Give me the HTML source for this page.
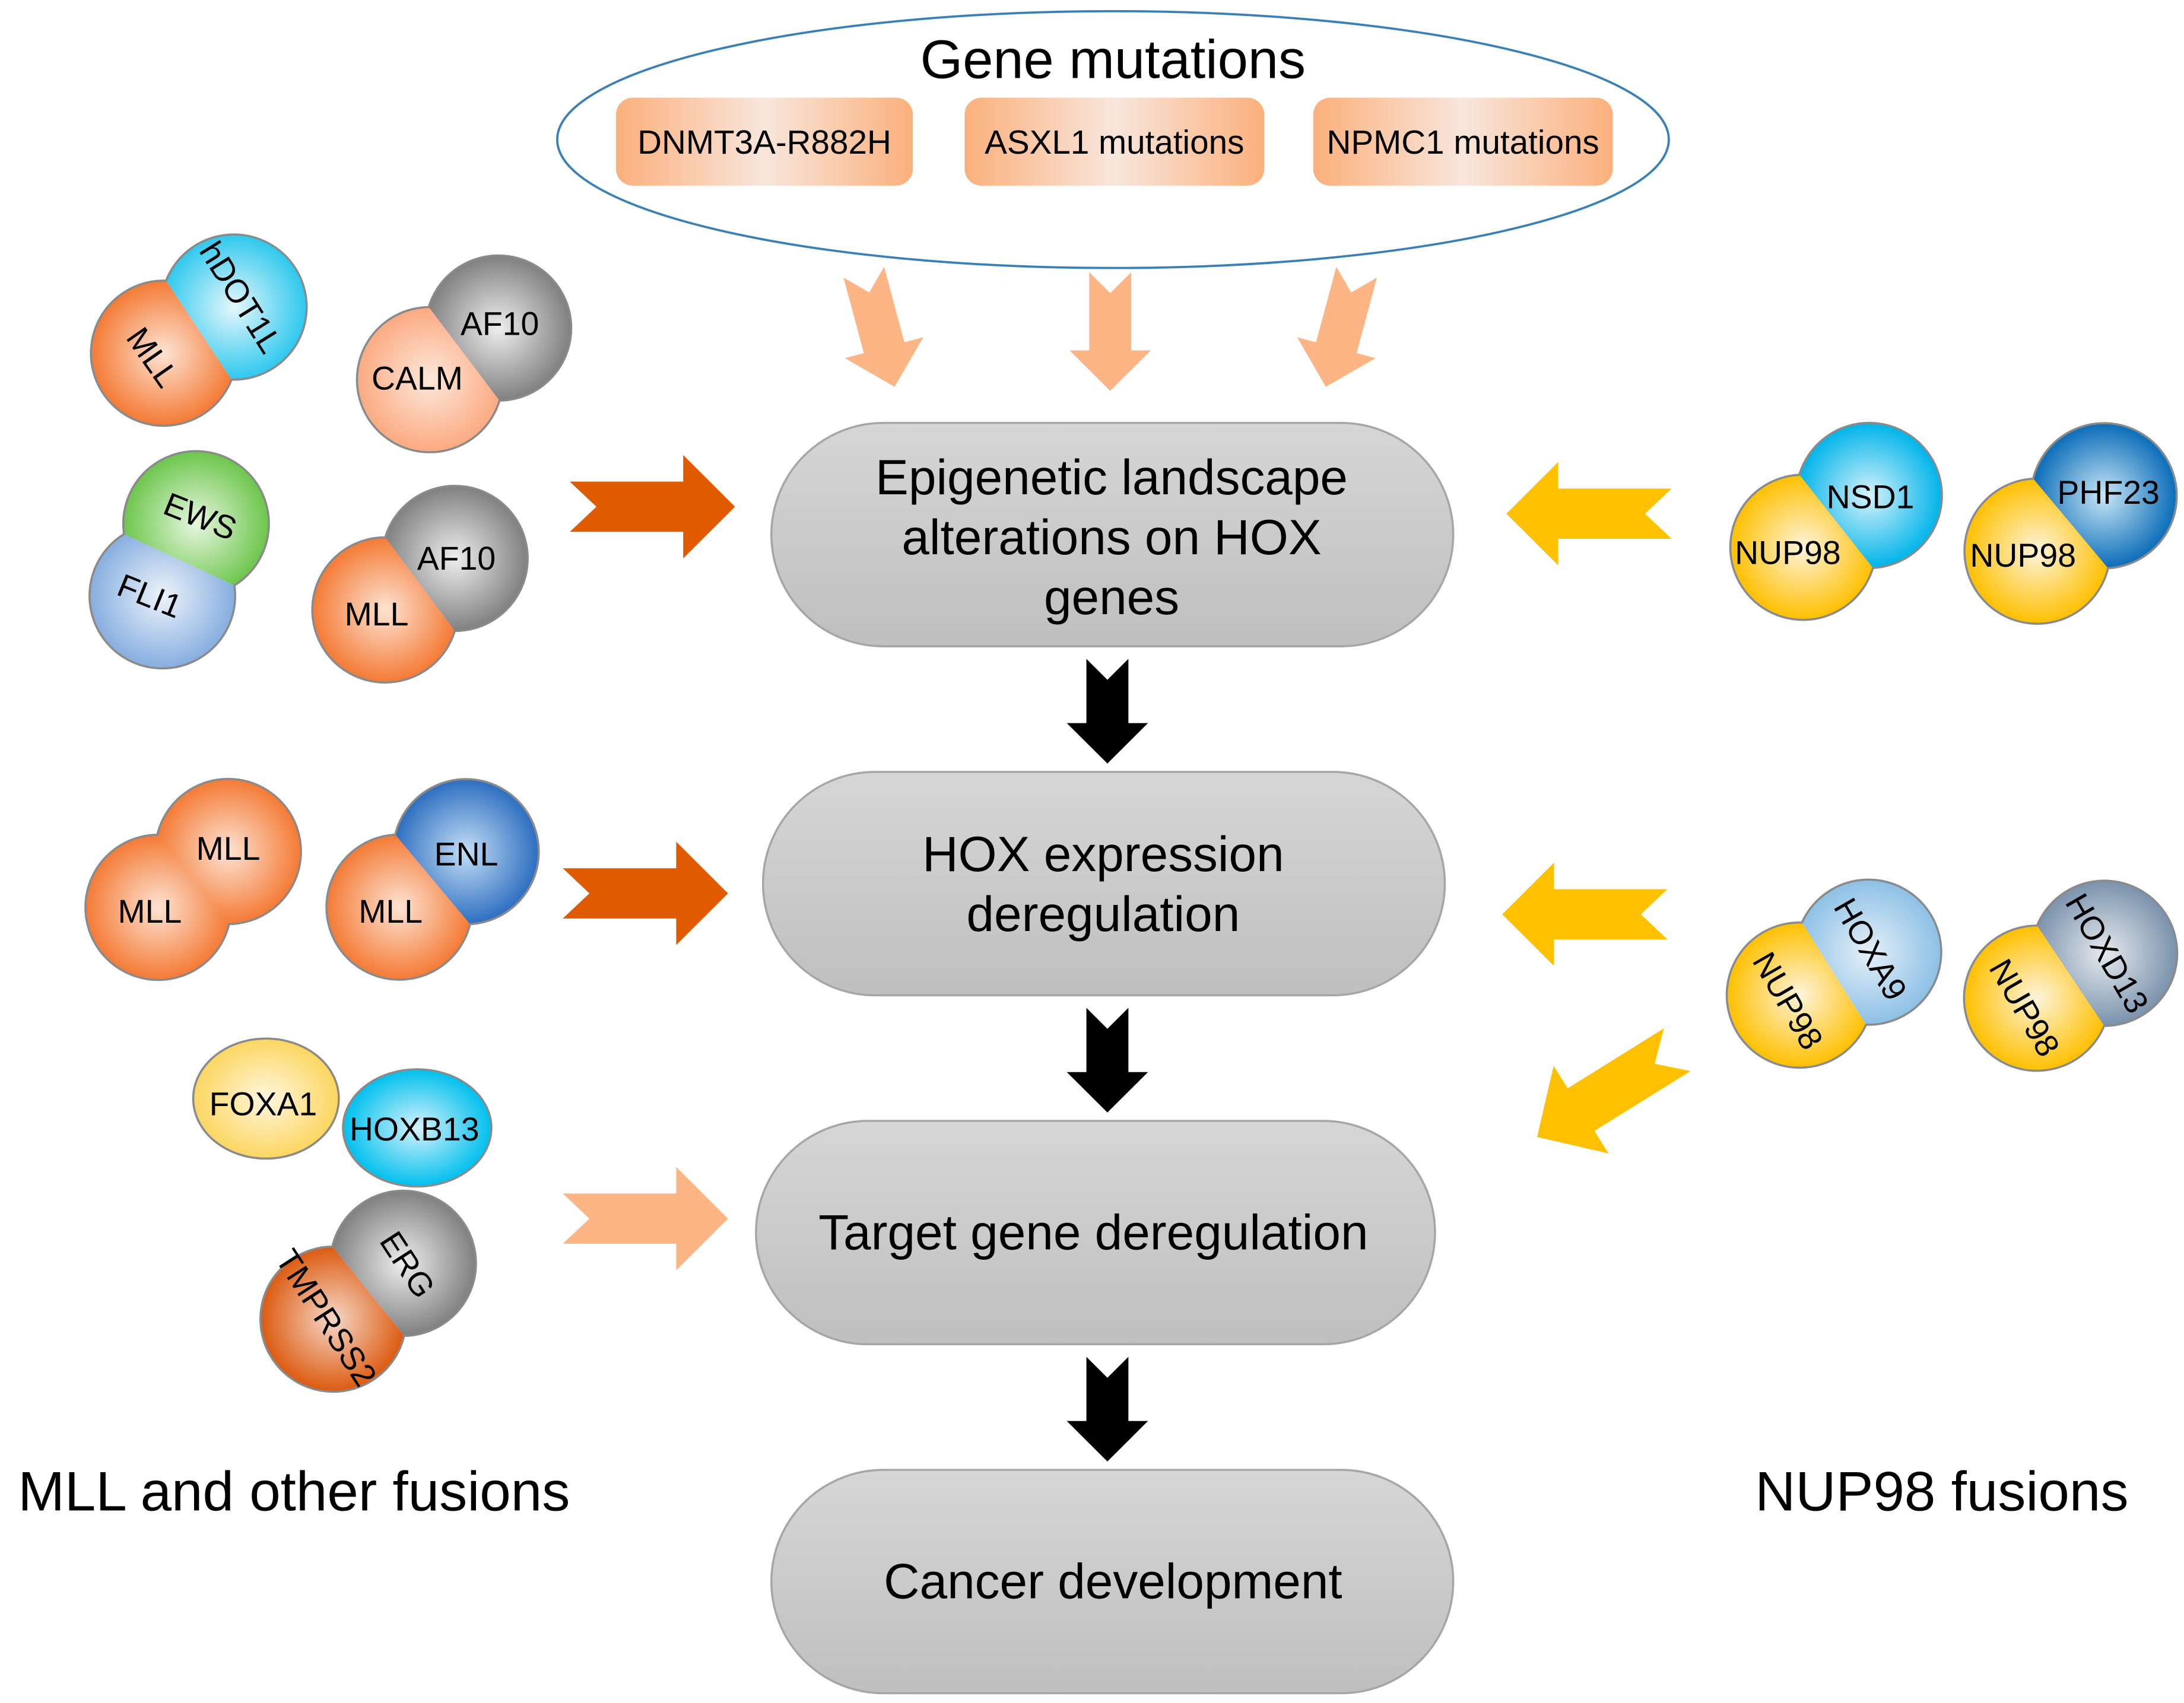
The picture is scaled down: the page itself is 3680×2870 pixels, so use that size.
<!DOCTYPE html>
<html><head><meta charset="utf-8"><style>
html,body{margin:0;padding:0;background:#fff;}
svg{display:block;}
text{font-family:"Liberation Sans",sans-serif;fill:#000;}
</style></head><body>
<svg width="3680" height="2870" viewBox="0 0 1560 1220" preserveAspectRatio="none" xmlns="http://www.w3.org/2000/svg">
<defs>
<clipPath id="cl" clipPathUnits="userSpaceOnUse"><rect x="-200" y="-200" width="200" height="400"/></clipPath>
<clipPath id="cr" clipPathUnits="userSpaceOnUse"><rect x="0" y="-200" width="200" height="400"/></clipPath>
<linearGradient id="pill" x1="0" y1="0" x2="0" y2="1"><stop offset="0" stop-color="#d6d6d6"/><stop offset="1" stop-color="#bfbfbf"/></linearGradient>
<linearGradient id="box" x1="0" y1="0" x2="1" y2="0"><stop offset="0" stop-color="#fbb07c"/><stop offset="0.5" stop-color="#f8e6dc"/><stop offset="1" stop-color="#fbb07c"/></linearGradient>
<radialGradient id="gOr"><stop offset="0" stop-color="#fde3d3"/><stop offset="1" stop-color="#f47a35"/></radialGradient>
<radialGradient id="gCy"><stop offset="0" stop-color="#e6f7fc"/><stop offset="1" stop-color="#2ec8ee"/></radialGradient>
<radialGradient id="gGr"><stop offset="0" stop-color="#eeeeee"/><stop offset="1" stop-color="#808080"/></radialGradient>
<radialGradient id="gSa"><stop offset="0" stop-color="#fde8dc"/><stop offset="1" stop-color="#fbaa80"/></radialGradient>
<radialGradient id="gGn"><stop offset="0" stop-color="#e8f6e0"/><stop offset="1" stop-color="#6cc64c"/></radialGradient>
<radialGradient id="gFl"><stop offset="0" stop-color="#eef3fa"/><stop offset="1" stop-color="#86aee0"/></radialGradient>
<radialGradient id="gEn"><stop offset="0" stop-color="#c4def6"/><stop offset="1" stop-color="#2d6ec0"/></radialGradient>
<radialGradient id="gYe"><stop offset="0" stop-color="#fdf4dc"/><stop offset="1" stop-color="#ffc000"/></radialGradient>
<radialGradient id="gPh"><stop offset="0" stop-color="#c8e6f6"/><stop offset="1" stop-color="#0a6cb8"/></radialGradient>
<radialGradient id="gNs"><stop offset="0" stop-color="#d6f2fb"/><stop offset="1" stop-color="#00b4ea"/></radialGradient>
<radialGradient id="gHa"><stop offset="0" stop-color="#e6f0f8"/><stop offset="1" stop-color="#8cc0e6"/></radialGradient>
<radialGradient id="gHd"><stop offset="0" stop-color="#e6eaee"/><stop offset="1" stop-color="#7a92ac"/></radialGradient>
<radialGradient id="gTm"><stop offset="0" stop-color="#f6d8c8"/><stop offset="1" stop-color="#dc5a10"/></radialGradient>
<radialGradient id="gFx"><stop offset="0" stop-color="#fff6e0"/><stop offset="1" stop-color="#fcd660"/></radialGradient>
<radialGradient id="gHb"><stop offset="0" stop-color="#d6f2fb"/><stop offset="1" stop-color="#00c0ee"/></radialGradient>
</defs>

<ellipse cx="795" cy="100" rx="397" ry="92" fill="none" stroke="#3a7fb6" stroke-width="1.6"/>
<text x="795" y="56" font-size="39" text-anchor="middle">Gene mutations</text>
<rect x="440" y="70" width="212" height="63" rx="12" fill="url(#box)"/>
<rect x="689" y="70" width="214" height="63" rx="12" fill="url(#box)"/>
<rect x="938" y="70" width="214" height="63" rx="12" fill="url(#box)"/>
<text x="546" y="110" font-size="24" text-anchor="middle">DNMT3A-R882H</text>
<text x="796" y="110" font-size="24" text-anchor="middle">ASXL1 mutations</text>
<text x="1045" y="110" font-size="24" text-anchor="middle">NPMC1 mutations</text>

<g fill="#fdb585">
<path transform="translate(617,195) rotate(-15)" d="M-15,0 L0,15 L15,0 L15,56 L29,56 L0,85 L-29,56 L-15,56Z"/>
<path transform="translate(793,195)" d="M-15,0 L0,15 L15,0 L15,56 L29,56 L0,85 L-29,56 L-15,56Z"/>
<path transform="translate(969,195) rotate(15)" d="M-15,0 L0,15 L15,0 L15,56 L29,56 L0,85 L-29,56 L-15,56Z"/>
</g>

<g stroke="#a6a6a6" stroke-width="1.5" fill="url(#pill)">
<rect x="551" y="303" width="487" height="160" rx="80"/>
<rect x="545" y="553" width="487" height="160" rx="80"/>
<rect x="540" y="803" width="485" height="160" rx="80"/>
<rect x="551" y="1053" width="487" height="160" rx="80"/>
</g>
<g font-size="35.5" text-anchor="middle">
<text x="794" y="354">Epigenetic landscape</text>
<text x="794" y="397">alterations on HOX</text>
<text x="794" y="440">genes</text>
<text x="788" y="624">HOX expression</text>
<text x="788" y="667">deregulation</text>
<text x="781" y="895">Target gene deregulation</text>
<text x="795" y="1145">Cancer development</text>
</g>

<g fill="#000">
<path transform="translate(791,472)" d="M-15,0 L0,15 L15,0 L15,46 L29,46 L0,75 L-29,46 L-15,46Z"/>
<path transform="translate(791,722)" d="M-15,0 L0,15 L15,0 L15,46 L29,46 L0,75 L-29,46 L-15,46Z"/>
<path transform="translate(791,972)" d="M-15,0 L0,15 L15,0 L15,46 L29,46 L0,75 L-29,46 L-15,46Z"/>
</g>

<path fill="#e05a00" transform="translate(407,363)" d="M0,-18 L81,-18 L81,-37 L118,0 L81,37 L81,18 L0,18 L19,0Z"/>
<path fill="#e05a00" transform="translate(402,640)" d="M0,-18 L81,-18 L81,-37 L118,0 L81,37 L81,18 L0,18 L19,0Z"/>
<path fill="#fdb585" transform="translate(402,873)" d="M0,-18 L81,-18 L81,-37 L118,0 L81,37 L81,18 L0,18 L19,0Z"/>
<path fill="#ffc000" transform="translate(1194,368) scale(-1,1)" d="M0,-18 L81,-18 L81,-37 L118,0 L81,37 L81,18 L0,18 L19,0Z"/>
<path fill="#ffc000" transform="translate(1191,655) scale(-1,1)" d="M0,-18 L81,-18 L81,-37 L118,0 L81,37 L81,18 L0,18 L19,0Z"/>
<path fill="#ffc000" transform="translate(1198,752) rotate(148)" d="M0,-18 L81,-18 L81,-37 L118,0 L81,37 L81,18 L0,18 L19,0Z"/>

<g stroke="#8a8a8a" stroke-width="1.5">
<g transform="translate(142,236.5) rotate(-33.4)"><circle cx="-30" cy="0" r="52" fill="url(#gOr)" clip-path="url(#cl)"/><circle cx="30" cy="0" r="52" fill="url(#gCy)" clip-path="url(#cr)"/></g>
<g transform="translate(331.5,253.5) rotate(-37)"><circle cx="-30.7" cy="0" r="52" fill="url(#gSa)" clip-path="url(#cl)"/><circle cx="30.7" cy="0" r="52" fill="url(#gGr)" clip-path="url(#cr)"/></g>
<g transform="translate(128,401) rotate(-65)"><circle cx="-28.5" cy="0" r="52" fill="url(#gFl)" clip-path="url(#cl)"/><circle cx="28.5" cy="0" r="52" fill="url(#gGn)" clip-path="url(#cr)"/></g>
<g transform="translate(300,418.5) rotate(-36.5)"><circle cx="-31" cy="0" r="52" fill="url(#gOr)" clip-path="url(#cl)"/><circle cx="31" cy="0" r="52" fill="url(#gGr)" clip-path="url(#cr)"/></g>
<g transform="translate(138,630) rotate(-38.7)"><circle cx="-32" cy="0" r="52" fill="url(#gOr)" clip-path="url(#cl)"/><circle cx="32" cy="0" r="52" fill="url(#gOr)" clip-path="url(#cr)"/></g>
<g transform="translate(309,630) rotate(-39.8)"><circle cx="-31" cy="0" r="52" fill="url(#gOr)" clip-path="url(#cl)"/><circle cx="31" cy="0" r="52" fill="url(#gEn)" clip-path="url(#cr)"/></g>
<g transform="translate(263,925) rotate(-38.7)"><circle cx="-32" cy="0" r="52" fill="url(#gTm)" clip-path="url(#cl)"/><circle cx="32" cy="0" r="52" fill="url(#gGr)" clip-path="url(#cr)"/></g>
<g transform="translate(1311.5,373.5) rotate(-38.2)"><circle cx="-30" cy="0" r="52" fill="url(#gYe)" clip-path="url(#cl)"/><circle cx="30" cy="0" r="52" fill="url(#gNs)" clip-path="url(#cr)"/></g>
<g transform="translate(1479,375) rotate(-39.8)"><circle cx="-31" cy="0" r="52" fill="url(#gYe)" clip-path="url(#cl)"/><circle cx="31" cy="0" r="52" fill="url(#gPh)" clip-path="url(#cr)"/></g>
<g transform="translate(1310,697.5) rotate(-32)"><circle cx="-29" cy="0" r="52" fill="url(#gYe)" clip-path="url(#cl)"/><circle cx="29" cy="0" r="52" fill="url(#gHa)" clip-path="url(#cr)"/></g>
<g transform="translate(1479,699) rotate(-33.7)"><circle cx="-29" cy="0" r="52" fill="url(#gYe)" clip-path="url(#cl)"/><circle cx="29" cy="0" r="52" fill="url(#gHd)" clip-path="url(#cr)"/></g>
<ellipse cx="190" cy="787" rx="52" ry="43" fill="url(#gFx)"/>
<ellipse cx="298" cy="808" rx="53" ry="42" fill="url(#gHb)"/>
</g>

<g font-size="23.5" text-anchor="middle">
<text transform="translate(109,256) rotate(55)" y="8">MLL</text>
<text transform="translate(172,213) rotate(58)" y="8">hDOT1L</text>
<text x="298" y="279">CALM</text>
<text x="357" y="240">AF10</text>
<text transform="translate(143,370) rotate(22)" y="8">EWS</text>
<text transform="translate(107,427) rotate(22)" y="8">FLI1</text>
<text x="269" y="448">MLL</text>
<text x="326" y="408">AF10</text>
<text x="107" y="661">MLL</text>
<text x="163" y="616">MLL</text>
<text x="279" y="661">MLL</text>
<text x="333" y="620">ENL</text>
<text x="188" y="799">FOXA1</text>
<text x="296" y="817">HOXB13</text>
<text transform="translate(233,944) rotate(57)" y="8">TMPRSS2</text>
<text transform="translate(291,906) rotate(57)" y="8">ERG</text>
<text x="1277" y="404">NUP98</text>
<text x="1336" y="364">NSD1</text>
<text x="1445" y="406">NUP98</text>
<text x="1506" y="361">PHF23</text>
<text transform="translate(1277,717) rotate(60)" y="8">NUP98</text>
<text transform="translate(1336,680) rotate(60)" y="8">HOXA9</text>
<text transform="translate(1446,722) rotate(60)" y="8">NUP98</text>
<text transform="translate(1505,683) rotate(60)" y="8">HOXD13</text>
</g>

<text x="210" y="1082" font-size="40" text-anchor="middle">MLL and other fusions</text>
<text x="1387" y="1082" font-size="40" text-anchor="middle">NUP98 fusions</text>
</svg>
</body></html>
